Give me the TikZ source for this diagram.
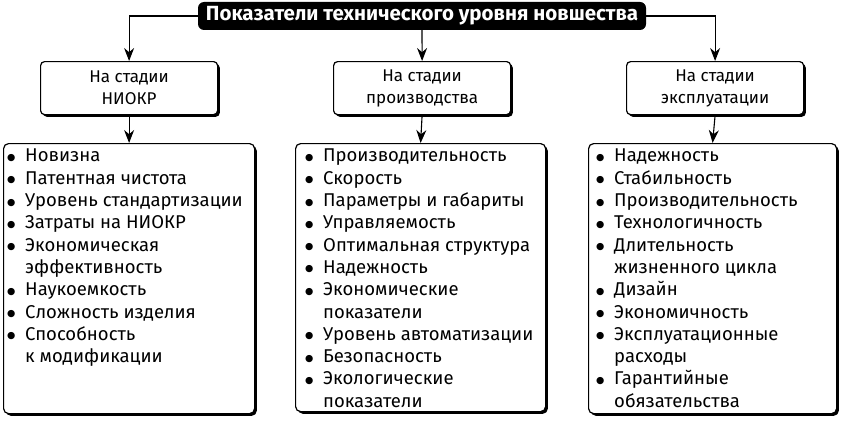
\documentclass[tikz,border=0pt]{standalone}
\usepackage{fontspec}
\setmainfont{Fira Sans}
\newfontfamily\dejavu{DejaVu Sans}
\usetikzlibrary{arrows.meta,shadows}
\newcommand{\bul}{\makebox[18pt][l]{\raisebox{1.5pt}{\dejavu\fontsize{9.5}{10}\selectfont ●}}}
\newcommand{\ind}{\hspace*{18pt}}
\begin{document}
\begin{tikzpicture}[x=1pt,y=-1pt,
  titlebox/.style={fill=black, text=white, rounded corners=6pt, font=\fontsize{20.5}{22}\selectfont\bfseries, minimum width=448pt, minimum height=28pt, inner sep=0pt},
  stagebox/.style={draw, line width=1.2pt, rounded corners=4pt, fill=white, minimum width=177pt, minimum height=53pt, align=center, font=\fontsize{17}{22}\selectfont, inner sep=0pt, anchor=north west, drop shadow={shadow xshift=2.2pt, shadow yshift=-2.2pt, fill=black, opacity=1}},
  listbox/.style={draw, line width=1.2pt, rounded corners=5pt, fill=white, inner sep=0pt, anchor=north west, drop shadow={shadow xshift=2.2pt, shadow yshift=-2.2pt, fill=black, opacity=1}},
  listtext/.style={anchor=north west, align=left, inner sep=0pt, font=\fontsize{18.5}{22.3}\selectfont},
  arr/.style={line width=1.1pt, -{Stealth[length=13pt,width=10pt]}}]
\useasboundingbox (0,0) rectangle (842,420);
\node[titlebox] (title) at (422,16) {Показатели технического уровня новшества};
\node[stagebox] (s1) at (40,61) {На стадии\\НИОКР};
\node[stagebox] (s2) at (333,61) {На стадии\\производства};
\node[stagebox] (s3) at (626,61) {На стадии\\эксплуатации};
\node[listbox, minimum width=251pt, minimum height=270pt] (l1) at (3,143) {};
\node[listbox, minimum width=250pt, minimum height=268pt] (l2) at (295,143) {};
\node[listbox, minimum width=248pt, minimum height=270pt] (l3) at (588,143) {};
\node[listtext] (t1) at (7,149) {\bul Новизна\\\bul Патентная чистота\\\bul Уровень стандартизации\\\bul Затраты на НИОКР\\\bul Экономическая\\\ind эффективность\\\bul Наукоемкость\\\bul Сложность изделия\\\bul Способность\\\ind к модификации};
\node[listtext] (t2) at (305,149) {\bul Производительность\\\bul Скорость\\\bul Параметры и габариты\\\bul Управляемость\\\bul Оптимальная структура\\\bul Надежность\\\bul Экономические\\\ind показатели\\\bul Уровень автоматизации\\\bul Безопасность\\\bul Экологические\\\ind показатели};
\node[listtext] (t3) at (596,149) {\bul Надежность\\\bul Стабильность\\\bul Производительность\\\bul Технологичность\\\bul Длительность\\\ind жизненного цикла\\\bul Дизайн\\\bul Экономичность\\\bul Эксплуатационные\\\ind расходы\\\bul Гарантийные\\\ind обязательства};
\draw[arr] (title.west) -| (s1.north);
\draw[arr] (title.south) -- (s2.north);
\draw[arr] (title.east) -| (s3.north);
\draw[arr] (s1.south) -- (l1.north);
\draw[arr] (s2.south) -- (l2.north);
\draw[arr] (s3.south) -- (l3.north);
\end{tikzpicture}
\end{document}
